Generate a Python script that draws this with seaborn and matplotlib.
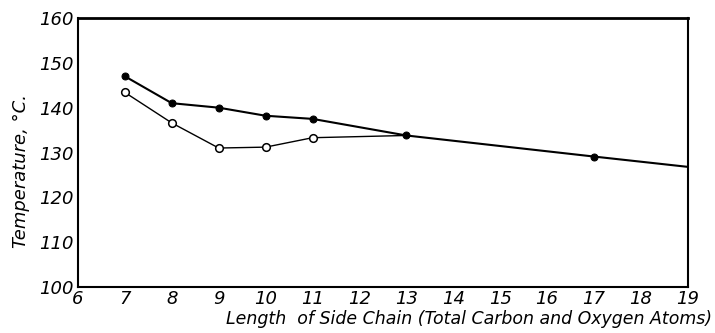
import matplotlib
matplotlib.use("Agg")
import matplotlib.pyplot as plt
import seaborn as sns
import pandas as pd

# data
filled_x = [7, 8, 9, 10, 11, 13, 17, 19]
filled_y = [147, 141, 140, 138.2, 137.5, 133.8, 129.1, 126.8]
open_x = [7, 8, 9, 10, 11, 13]
open_y = [143.4, 136.6, 131.0, 131.2, 133.3, 133.8]
x_ticks = list(range(6, 20))
y_ticks = [100, 110, 120, 130, 140, 150, 160]

sns.set_theme(style="white")
plt.rcParams['font.family'] = ['DejaVu Sans']
plt.rcParams['text.color'] = 'black'
plt.rcParams['axes.labelcolor'] = 'black'
plt.rcParams['xtick.color'] = 'black'
plt.rcParams['ytick.color'] = 'black'

fig = plt.figure(figsize=(7.15, 3.33), dpi=100)
ax = fig.add_axes([0.109, 0.138, 0.853, 0.808])

df_f = pd.DataFrame({"x": filled_x, "y": filled_y})
df_o = pd.DataFrame({"x": open_x, "y": open_y})

sns.lineplot(data=df_o, x="x", y="y", ax=ax, color="black", lw=1.0,
             marker="o", markersize=5.5, markerfacecolor="white",
             markeredgecolor="black", markeredgewidth=1.1,
             markevery=list(range(len(open_x) - 1)))
sns.lineplot(data=df_f, x="x", y="y", ax=ax, color="black", lw=1.5,
             marker="o", markersize=5, markerfacecolor="black",
             markeredgecolor="black", markevery=list(range(len(filled_x) - 1)))

ax.set_xlim(6, 19)
ax.set_ylim(100, 160)
ax.set_xticks(x_ticks)
ax.set_yticks(y_ticks)
ax.set_xticklabels([str(t) for t in x_ticks], fontsize=13, style="italic")
ax.set_yticklabels([str(t) for t in y_ticks], fontsize=13, style="italic")
ax.tick_params(direction="in", length=4, width=1, color="black", pad=3,
               labelcolor="black")
ax.tick_params(axis="x", pad=2)
for side, sp in ax.spines.items():
    sp.set_color("black")
    sp.set_linewidth(1.5)
ax.spines["top"].set_linewidth(2)

ax.set_xlabel("Length  of Side Chain (Total Carbon and Oxygen Atoms)",
              fontsize=12.5, style="italic", color="black")
ax.xaxis.set_label_coords(1.04, -0.085)
ax.xaxis.label.set_ha("right")
ax.xaxis.label.set_va("top")
ax.set_ylabel("Temperature, °C.", fontsize=13, style="italic", color="black")
ax.yaxis.set_label_coords(-0.078, 0.43)

fig.savefig("out.png", dpi=100)
